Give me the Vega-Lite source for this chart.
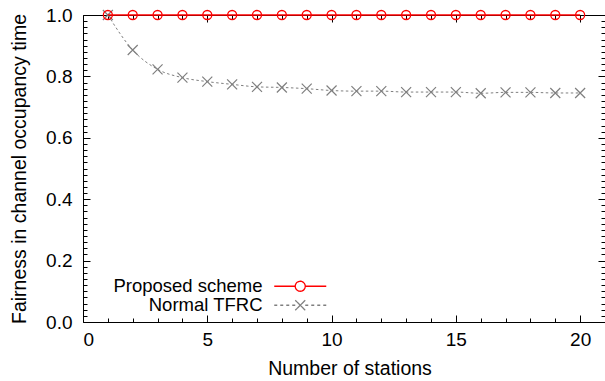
{
  "$schema": "https://vega.github.io/schema/vega-lite/v6.json",
  "width": 522,
  "height": 307,
  "autosize": {"type": "none"},
  "padding": {"left": 83, "top": 15, "right": 0, "bottom": 59},
  "background": "white",
  "config": {
    "view": {"stroke": null},
    "axis": {
      "labelFont": "Liberation Sans",
      "titleFont": "Liberation Sans",
      "labelFontSize": 19,
      "titleFontSize": 19.5,
      "titleFontWeight": "normal",
      "labelColor": "black",
      "titleColor": "black",
      "domainColor": "black",
      "tickColor": "black",
      "domainWidth": 1,
      "tickWidth": 1,
      "grid": false
    },
    "legend": {"labelFont": "Liberation Sans", "labelFontSize": 18.5, "labelColor": "black"}
  },
  "data": {
    "values": [
      {"x": 1, "y": 1.0, "series": "Proposed scheme"},
      {"x": 2, "y": 1.0, "series": "Proposed scheme"},
      {"x": 3, "y": 1.0, "series": "Proposed scheme"},
      {"x": 4, "y": 1.0, "series": "Proposed scheme"},
      {"x": 5, "y": 1.0, "series": "Proposed scheme"},
      {"x": 6, "y": 1.0, "series": "Proposed scheme"},
      {"x": 7, "y": 1.0, "series": "Proposed scheme"},
      {"x": 8, "y": 1.0, "series": "Proposed scheme"},
      {"x": 9, "y": 1.0, "series": "Proposed scheme"},
      {"x": 10, "y": 1.0, "series": "Proposed scheme"},
      {"x": 11, "y": 1.0, "series": "Proposed scheme"},
      {"x": 12, "y": 1.0, "series": "Proposed scheme"},
      {"x": 13, "y": 1.0, "series": "Proposed scheme"},
      {"x": 14, "y": 1.0, "series": "Proposed scheme"},
      {"x": 15, "y": 1.0, "series": "Proposed scheme"},
      {"x": 16, "y": 1.0, "series": "Proposed scheme"},
      {"x": 17, "y": 1.0, "series": "Proposed scheme"},
      {"x": 18, "y": 1.0, "series": "Proposed scheme"},
      {"x": 19, "y": 1.0, "series": "Proposed scheme"},
      {"x": 20, "y": 1.0, "series": "Proposed scheme"},
      {"x": 1, "y": 1.0, "series": "Normal TFRC"},
      {"x": 2, "y": 0.886, "series": "Normal TFRC"},
      {"x": 3, "y": 0.823, "series": "Normal TFRC"},
      {"x": 4, "y": 0.796, "series": "Normal TFRC"},
      {"x": 5, "y": 0.783, "series": "Normal TFRC"},
      {"x": 6, "y": 0.774, "series": "Normal TFRC"},
      {"x": 7, "y": 0.766, "series": "Normal TFRC"},
      {"x": 8, "y": 0.764, "series": "Normal TFRC"},
      {"x": 9, "y": 0.76, "series": "Normal TFRC"},
      {"x": 10, "y": 0.754, "series": "Normal TFRC"},
      {"x": 11, "y": 0.752, "series": "Normal TFRC"},
      {"x": 12, "y": 0.752, "series": "Normal TFRC"},
      {"x": 13, "y": 0.749, "series": "Normal TFRC"},
      {"x": 14, "y": 0.749, "series": "Normal TFRC"},
      {"x": 15, "y": 0.749, "series": "Normal TFRC"},
      {"x": 16, "y": 0.745, "series": "Normal TFRC"},
      {"x": 17, "y": 0.748, "series": "Normal TFRC"},
      {"x": 18, "y": 0.748, "series": "Normal TFRC"},
      {"x": 19, "y": 0.746, "series": "Normal TFRC"},
      {"x": 20, "y": 0.746, "series": "Normal TFRC"}
    ]
  },
  "resolve": {"axis": {"x": "independent", "y": "independent"}},
  "layer": [
    {
      "transform": [{"filter": "datum.series === 'Normal TFRC'"}],
      "mark": {"type": "line", "strokeWidth": 1, "strokeDash": [2.5, 2.5], "interpolate": "monotone", "stroke": "#7f7f7f"},
      "encoding": {
        "x": {"field": "x", "type": "quantitative", "scale": {"domain": [0, 21], "nice": false},
          "axis": {"orient": "top", "values": [0, 5, 10, 15, 20], "tickSize": -7, "labels": false, "title": null, "domain": true}},
        "y": {"field": "y", "type": "quantitative", "scale": {"domain": [0, 1], "nice": false},
          "axis": {"orient": "right", "values": [0, 0.2, 0.4, 0.6, 0.8, 1.0], "tickSize": -7, "labels": false, "title": null, "domain": true}}
      }
    },
    {
      "transform": [{"filter": "datum.series === 'Normal TFRC'"}],
      "mark": {"type": "point", "shape": "M-1,-1L1,1M-1,1L1,-1", "filled": false, "size": 100, "strokeWidth": 1.2, "stroke": "#7f7f7f", "opacity": 1},
      "encoding": {
        "x": {"field": "x", "type": "quantitative",
          "axis": {"orient": "top", "values": [1, 2, 3, 4, 6, 7, 8, 9, 11, 12, 13, 14, 16, 17, 18, 19], "tickSize": -4, "labels": false, "title": null, "domain": false}},
        "y": {"field": "y", "type": "quantitative",
          "axis": {"orient": "right", "values": [0.02, 0.04, 0.06, 0.08, 0.1, 0.12, 0.14, 0.16, 0.18, 0.22, 0.24, 0.26, 0.28, 0.3, 0.32, 0.34, 0.36, 0.38, 0.42, 0.44, 0.46, 0.48, 0.5, 0.52, 0.54, 0.56, 0.58, 0.62, 0.64, 0.66, 0.68, 0.7, 0.72, 0.74, 0.76, 0.78, 0.82, 0.84, 0.86, 0.88, 0.9, 0.92, 0.94, 0.96, 0.98], "tickSize": -4, "labels": false, "title": null, "domain": false}}
      }
    },
    {
      "transform": [{"filter": "datum.series === 'Proposed scheme'"}],
      "mark": {"type": "line", "strokeWidth": 1.5},
      "encoding": {
        "x": {"field": "x", "type": "quantitative",
          "axis": {"orient": "bottom", "values": [0, 5, 10, 15, 20], "tickSize": -7, "labelPadding": 15, "title": "Number of stations", "titlePadding": 10, "titleX": 266.5, "domain": true}},
        "y": {"field": "y", "type": "quantitative",
          "axis": {"orient": "left", "values": [0, 0.2, 0.4, 0.6, 0.8, 1.0], "format": ".1f", "tickSize": -7, "labelPadding": 18, "title": "Fairness in channel occupancy time", "titlePadding": 16, "domain": true}},
        "color": {"field": "series", "type": "nominal",
          "scale": {"domain": ["Proposed scheme", "Normal TFRC"], "range": ["#ff0000", "#7f7f7f"]},
          "legend": {
            "orient": "none", "legendX": 208, "legendY": 262, "title": null, "padding": 0,
            "symbolSize": 256, "symbolStrokeWidth": 1.3, "labelAlign": "right", "labelOffset": -47, "labelLimit": 400, "rowPadding": 0,
            "encode": {
              "symbols": {"update": {
                "shape": {"signal": "datum.value === 'Proposed scheme' ? 'M-3.25,0L-0.625,0M0.625,0L3.25,0M-0.625,0A0.625,0.625 0 1,1 0.625,0A0.625,0.625 0 1,1 -0.625,0' : 'M-3.25,0L-2.875,0M-2.5,0L-2.125,0M-1.75,0L-1.375,0M-1,0L-0.625,0M-0.625,-0.625L0.625,0.625M-0.625,0.625L0.625,-0.625M0.625,0L1,0M1.375,0L1.75,0M2.125,0L2.5,0M2.875,0L3.25,0'"},
                "fill": {"value": "transparent"},
                "strokeDash": {"value": [1, 0]},
                "opacity": {"value": 1}
              }}
            }
          }
        }
      }
    },
    {
      "transform": [{"filter": "datum.series === 'Proposed scheme'"}],
      "mark": {"type": "point", "shape": "circle", "filled": false, "size": 81, "strokeWidth": 1.3, "stroke": "#ff0000", "opacity": 1},
      "encoding": {
        "x": {"field": "x", "type": "quantitative",
          "axis": {"orient": "bottom", "values": [1, 2, 3, 4, 6, 7, 8, 9, 11, 12, 13, 14, 16, 17, 18, 19], "tickSize": -4, "labels": false, "title": null, "domain": false}},
        "y": {"field": "y", "type": "quantitative",
          "axis": {"orient": "left", "values": [0.02, 0.04, 0.06, 0.08, 0.1, 0.12, 0.14, 0.16, 0.18, 0.22, 0.24, 0.26, 0.28, 0.3, 0.32, 0.34, 0.36, 0.38, 0.42, 0.44, 0.46, 0.48, 0.5, 0.52, 0.54, 0.56, 0.58, 0.62, 0.64, 0.66, 0.68, 0.7, 0.72, 0.74, 0.76, 0.78, 0.82, 0.84, 0.86, 0.88, 0.9, 0.92, 0.94, 0.96, 0.98], "tickSize": -4, "labels": false, "title": null, "domain": false}}
      }
    }
  ]
}
